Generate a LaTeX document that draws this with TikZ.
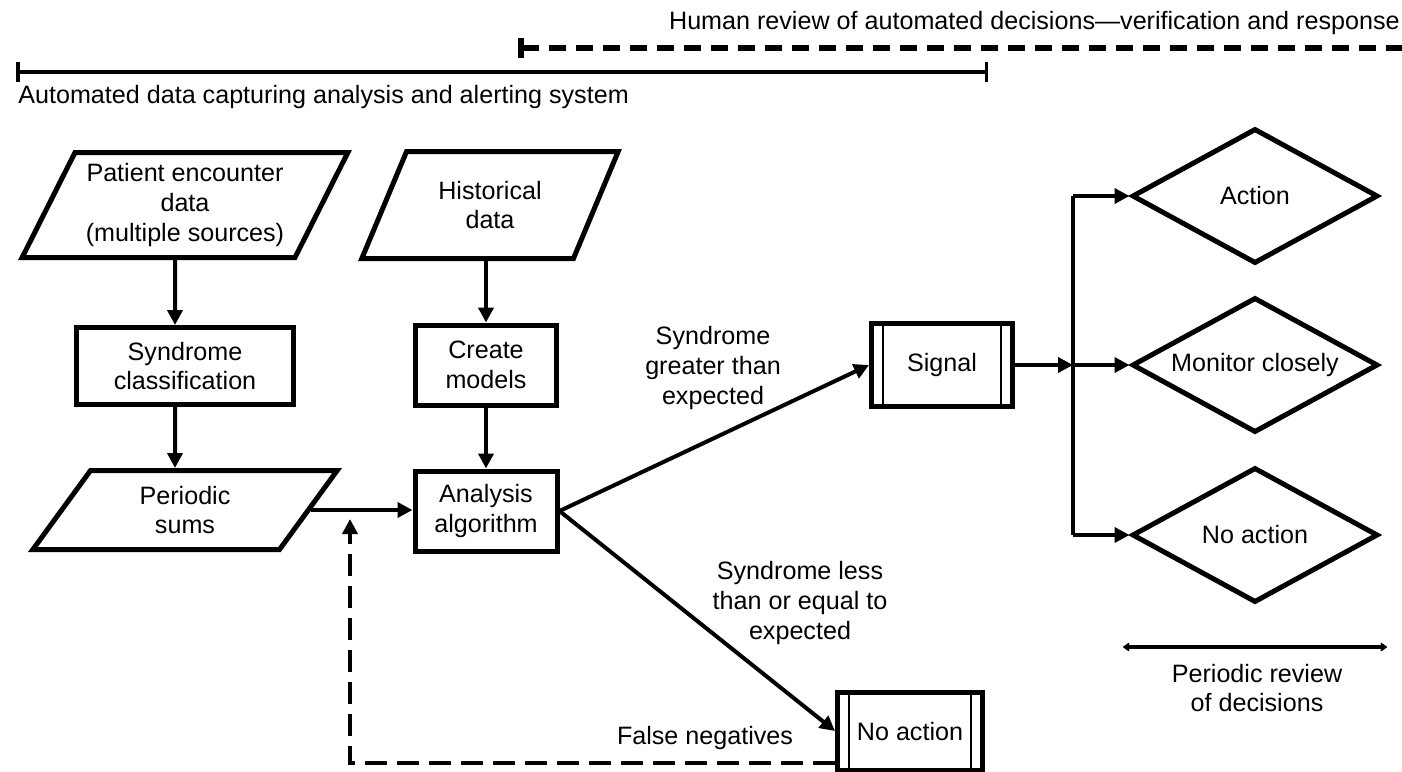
\documentclass[tikz,border=0pt]{standalone}
\usepackage{fontspec}
\setmainfont{Liberation Sans}
\usetikzlibrary{shapes.geometric,arrows.meta,calc}
\tikzset{
  base/.style={font=\fontsize{14.3}{16.8}\selectfont, align=center, inner sep=0pt},
  stepbox/.style={base, draw, line width=1mm},
  databox/.style={stepbox, trapezium, trapezium left angle=60,
    trapezium right angle=120, trapezium stretches=true},
  procbox/.style={stepbox, path picture={
    \draw[line width=0.5mm]
      ([xshift=2.3mm]path picture bounding box.north west) -- ([xshift=2.3mm]path picture bounding box.south west)
      ([xshift=-2.3mm]path picture bounding box.north east) -- ([xshift=-2.3mm]path picture bounding box.south east);}},
  choice/.style={base, draw, diamond, aspect=1.8, line width=1mm, minimum width=49.2mm, minimum height=27mm},
  flow/.style={line width=0.8mm, -{Triangle[length=3mm,width=3mm]}},
  span/.style={line width=0.7mm},
}
\begin{document}
\begin{tikzpicture}[x=0.2mm,y=-0.2mm] % ------ pixel grid, origin top left -----
    \path[use as bounding box, clip] (0,0) rectangle (1402,771);
    % --- the two spans on top
    \node[base, anchor=east] (hrtxt) at (1400,23) {Human review of automated decisions---verification and response};
    \coordinate (hr1) at (518,48); \coordinate (hr2) at (1420,48);
    \draw[line width=1.1mm, dash pattern=on 3.4mm off 2mm, {Bar[width=4mm]}-] (hr1) -- (hr2);
    \coordinate (ad1) at (16,72); \coordinate (ad2) at (988,72);
    \draw[span, {Bar[width=4mm]}-{Bar[width=4mm]}] (ad1) -- (ad2);
    \node[base, anchor=west] (adtxt) at (18,97) {Automated data capturing analysis and alerting system};
    % --- boxes
    \node[databox, minimum width=65.2mm, minimum height=21mm] (pat) at (185,205) {Patient encounter\\data\\(multiple sources)};
    \node[databox, minimum width=51.6mm, minimum height=21.4mm] (his) at (490,205) {Historical\\data};
    \node[stepbox, minimum width=43.2mm, minimum height=15.4mm] (syn) at (185,366) {Syndrome\\classification};
    \node[stepbox, minimum width=28.2mm, minimum height=16mm] (crm) at (486,365) {Create\\models};
    \node[databox, minimum width=61mm, minimum height=15.8mm] (sum) at (185,510) {Periodic\\sums};
    \node[stepbox, minimum width=28.4mm, minimum height=16mm] (ana) at (486,511) {Analysis\\algorithm};
    \node[procbox, minimum width=28.2mm, minimum height=16.6mm] (sig) at (942,365) {Signal};
    \node[procbox, minimum width=29mm, minimum height=15.6mm] (nac) at (910,731) {No action};
    \node[choice] (act) at (1255,196) {Action};
    \node[choice] (mon) at (1255,365) {Monitor closely};
    \node[choice] (nad) at (1255,535) {No action};
    % --- connectors
    \draw[flow] ([xshift=-2mm]pat.south) -- ([xshift=-2mm]syn.north);
    \draw[flow] ([xshift=-2mm]syn.south) -- ([xshift=-2mm]sum.north);
    \draw[flow] (crm.north |- his.south) -- (crm.north);
    \draw[flow] (crm.south) -- (ana.north);
    \draw[flow] (sum.east) -- (sum.east -| ana.west);
    \draw[flow] (ana.east) -- (sig.west);
    \draw[flow] (ana.east) -- (nac.west);
    \coordinate (br) at (1073,365);
    \draw[flow] (sig.east) -- (br);
    \draw[line width=0.8mm] (br |- act.west) -- (br |- nad.west);
    \foreach \d in {act,mon,nad}
      \draw[flow] (br |- \d.west) -- (\d.west);
    \coordinate (fb1) at (350,763); \coordinate (fb2) at (350,519);
    \draw[flow, dash pattern=on 4.4mm off 2mm] (nac.west |- fb1) -- (fb1) -- (fb2);
    % --- labels
    \node[base] (gtlbl) at (713,368) {Syndrome\\greater than\\expected};
    \node[base] (lelbl) at (800,603) {Syndrome less\\than or equal to\\expected};
    \node[base] (fnlbl) at (705,738) {False negatives};
    \coordinate (pr1) at (1123,647); \coordinate (pr2) at (1387,647);
    \draw[line width=0.8mm, {Stealth[round,length=1.6mm,width=2.2mm]}-{Stealth[round,length=1.6mm,width=2.2mm]}] (pr1) -- (pr2);
    \node[base] (prtxt) at (1257,688) {Periodic review\\of decisions};
\end{tikzpicture}
\end{document}
